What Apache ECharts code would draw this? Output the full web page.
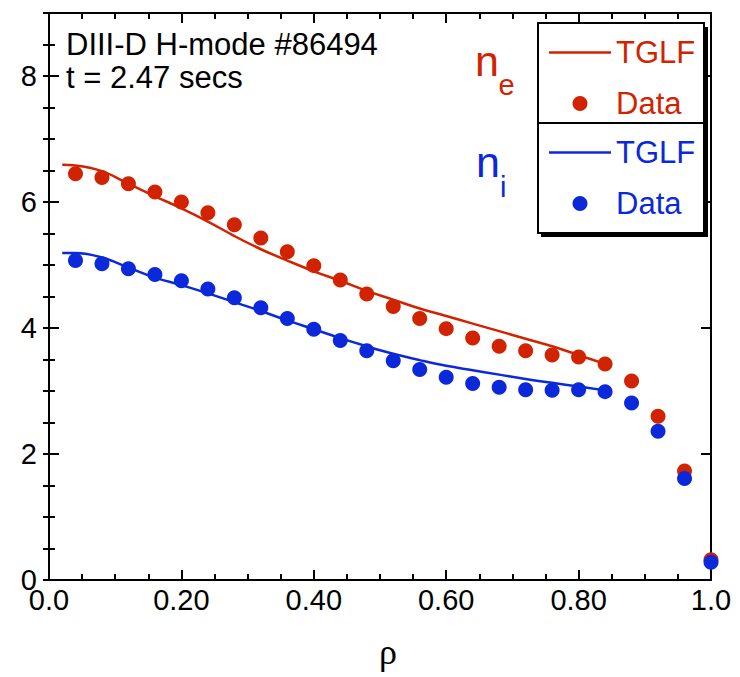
<!DOCTYPE html>
<html>
<head>
<meta charset="utf-8">
<script src="https://cdn.jsdelivr.net/npm/echarts@6/dist/echarts.min.js"></script>
<style>
html,body{margin:0;padding:0;background:#fff;}
#chart{width:740px;height:677px;}
</style>
</head>
<body>
<div id="chart"></div>
<script>
// ---- data ----
const rhoData = [0.04, 0.08, 0.12, 0.16, 0.20, 0.24, 0.28, 0.32, 0.36, 0.40, 0.44, 0.48, 0.52, 0.56, 0.60, 0.64, 0.68, 0.72, 0.76, 0.80, 0.84, 0.88, 0.92, 0.96, 1.00];
const neData = [6.45, 6.39, 6.29, 6.16, 6.00, 5.83, 5.64, 5.43, 5.21, 4.99, 4.76, 4.54, 4.34, 4.15, 3.99, 3.84, 3.71, 3.64, 3.57, 3.54, 3.43, 3.16, 2.60, 1.73, 0.32];
const niData = [5.07, 5.02, 4.94, 4.85, 4.75, 4.62, 4.48, 4.32, 4.15, 3.98, 3.80, 3.64, 3.48, 3.34, 3.22, 3.12, 3.06, 3.02, 3.01, 3.02, 2.99, 2.81, 2.36, 1.61, 0.28];
const tglfRho = [0.02, 0.04, 0.08, 0.12, 0.16, 0.20, 0.24, 0.28, 0.32, 0.36, 0.40, 0.44, 0.48, 0.52, 0.56, 0.60, 0.64, 0.68, 0.72, 0.76, 0.80, 0.84];
const neTglf = [6.59, 6.58, 6.49, 6.29, 6.09, 5.90, 5.69, 5.46, 5.25, 5.07, 4.90, 4.75, 4.59, 4.45, 4.31, 4.19, 4.07, 3.95, 3.83, 3.71, 3.57, 3.43];
const niTglf = [5.19, 5.19, 5.12, 4.96, 4.80, 4.68, 4.55, 4.41, 4.27, 4.12, 3.98, 3.84, 3.71, 3.59, 3.49, 3.40, 3.33, 3.26, 3.19, 3.13, 3.07, 3.01];
const xTickLabels = ['0.0', '0.20', '0.40', '0.60', '0.80', '1.0'];
const yTickLabels = ['0', '2', '4', '6', '8'];
const legendLabels = {'ne TGLF': 'TGLF', 'ne Data': 'Data', 'ni TGLF': 'TGLF', 'ni Data': 'Data'};
const titleLines = ['DIII-D H-mode #86494', 't = 2.47 secs'];
const xName = 'ρ';

// ---- style ----
const RED = '#D22300';
const BLUE = '#0B29DB';
const FONT = '"Liberation Sans", Arial, Helvetica, sans-serif';
const LINE_ICON = 'path://M0,0h62v2.5h-62z';

const pairs = (xs, ys) => xs.map((x, i) => [x, ys[i]]);

const chart = echarts.init(document.getElementById('chart'), null, {renderer: 'svg'});

const majorTick = {show: true, inside: true, length: 10, lineStyle: {color: '#000', width: 2}};
const axisLine = {show: true, onZero: false, lineStyle: {color: '#000', width: 2}};

const option = {
  backgroundColor: '#fff',
  animation: false,
  textStyle: {fontFamily: FONT},
  grid: {left: 49, right: 29, top: 13, bottom: 97, containLabel: false, outerBoundsMode: 'none'},
  title: {
    text: titleLines.join('\n'),
    left: 66, top: 28, padding: 0,
    textStyle: {fontFamily: FONT, fontSize: 31, fontWeight: 'normal', color: '#000', lineHeight: 33}
  },
  xAxis: [
    {
      type: 'value', position: 'bottom', min: 0, max: 1, interval: 0.2,
      axisLine: axisLine, axisTick: majorTick,
      minorTick: {show: true, splitNumber: 4, length: 6, lineStyle: {color: '#000', width: 2}},
      splitLine: {show: false}, minorSplitLine: {show: false},
      axisLabel: {
        show: true, margin: 10, fontSize: 29, lineHeight: 20, color: '#000', fontFamily: FONT,
        formatter: (v, i) => xTickLabels[i] !== undefined ? xTickLabels[i] : ''
      },
      name: xName, nameLocation: 'middle', nameGap: 54,
      nameTextStyle: {fontFamily: '"Liberation Serif", "Times New Roman", serif', fontSize: 36, color: '#000', padding: [0, 0, 0, 16]}
    },
    {
      type: 'value', position: 'top', min: 0, max: 1, interval: 0.2,
      axisLine: axisLine, axisTick: majorTick,
      minorTick: {show: true, splitNumber: 4, length: 6, lineStyle: {color: '#000', width: 2}},
      splitLine: {show: false}, axisLabel: {show: false}
    }
  ],
  yAxis: [
    {
      type: 'value', position: 'left', min: 0, max: 9, interval: 2,
      axisLine: axisLine, axisTick: majorTick, splitLine: {show: false},
      axisLabel: {
        show: true, margin: 12, fontSize: 29, lineHeight: 20, color: '#000', fontFamily: FONT,
        formatter: (v, i) => yTickLabels[i] !== undefined ? yTickLabels[i] : ''
      }
    },
    {
      type: 'value', position: 'right', min: 0, max: 9, interval: 2,
      axisLine: axisLine, axisTick: majorTick, splitLine: {show: false}, axisLabel: {show: false}
    },
    {
      type: 'value', position: 'left', min: 0, max: 9, interval: 0.5,
      axisLine: {show: false}, splitLine: {show: false}, axisLabel: {show: false},
      axisTick: {show: true, inside: true, length: 6, lineStyle: {color: '#000', width: 2}}
    },
    {
      type: 'value', position: 'right', min: 0, max: 9, interval: 0.5,
      axisLine: {show: false}, splitLine: {show: false}, axisLabel: {show: false},
      axisTick: {show: true, inside: true, length: 6, lineStyle: {color: '#000', width: 2}}
    }
  ],
  legend: [
    {
      orient: 'vertical', left: 549, top: 37, padding: 0,
      itemWidth: 62, itemHeight: 15, itemGap: 20, selectedMode: false,
      data: [{name: 'ne TGLF', icon: LINE_ICON}, {name: 'ne Data', icon: 'circle'}],
      formatter: name => legendLabels[name],
      textStyle: {color: RED, fontSize: 31, lineHeight: 30, fontFamily: FONT}
    },
    {
      orient: 'vertical', left: 549, top: 137, padding: 0,
      itemWidth: 62, itemHeight: 15, itemGap: 20, selectedMode: false,
      data: [{name: 'ni TGLF', icon: LINE_ICON}, {name: 'ni Data', icon: 'circle'}],
      formatter: name => legendLabels[name],
      textStyle: {color: BLUE, fontSize: 31, lineHeight: 30, fontFamily: FONT}
    }
  ],
  graphic: [
    {type: 'rect', z: 3, silent: true, shape: {x: 541, y: 27, width: 167, height: 210}, style: {fill: '#000'}},
    {type: 'rect', z: 3, silent: true, shape: {x: 538, y: 23, width: 166, height: 210}, style: {fill: '#fff', stroke: '#000', lineWidth: 2}},
    {type: 'line', z: 3, silent: true, shape: {x1: 538, y1: 123, x2: 704, y2: 123}, style: {stroke: '#000', lineWidth: 2}},
    {type: 'text', z: 5, silent: true, x: 475, y: 61, style: {text: 'n', fill: RED, font: '43px ' + FONT, verticalAlign: 'middle'}},
    {type: 'text', z: 5, silent: true, x: 498.5, y: 85, style: {text: 'e', fill: RED, font: '29px ' + FONT, verticalAlign: 'middle'}},
    {type: 'text', z: 5, silent: true, x: 476, y: 162, style: {text: 'n', fill: BLUE, font: '43px ' + FONT, verticalAlign: 'middle'}},
    {type: 'text', z: 5, silent: true, x: 500, y: 187, style: {text: 'i', fill: BLUE, font: '29px ' + FONT, verticalAlign: 'middle'}}
  ],
  series: [
    {
      name: 'ne TGLF', type: 'line', xAxisIndex: 0, yAxisIndex: 0,
      data: pairs(tglfRho, neTglf), smooth: 0.4, symbol: 'none',
      lineStyle: {color: RED, width: 2.5}, itemStyle: {color: RED}, z: 2
    },
    {
      name: 'ni TGLF', type: 'line', xAxisIndex: 0, yAxisIndex: 0,
      data: pairs(tglfRho, niTglf), smooth: 0.4, symbol: 'none',
      lineStyle: {color: BLUE, width: 2.5}, itemStyle: {color: BLUE}, z: 2
    },
    {
      name: 'ne Data', type: 'scatter', xAxisIndex: 0, yAxisIndex: 0,
      data: pairs(rhoData, neData), symbol: 'circle', symbolSize: 15, clip: false,
      itemStyle: {color: RED, opacity: 1}, z: 2
    },
    {
      name: 'ni Data', type: 'scatter', xAxisIndex: 0, yAxisIndex: 0,
      data: pairs(rhoData, niData), symbol: 'circle', symbolSize: 15, clip: false,
      itemStyle: {color: BLUE, opacity: 1}, z: 2
    }
  ]
};
chart.setOption(option);
</script>
</body>
</html>
